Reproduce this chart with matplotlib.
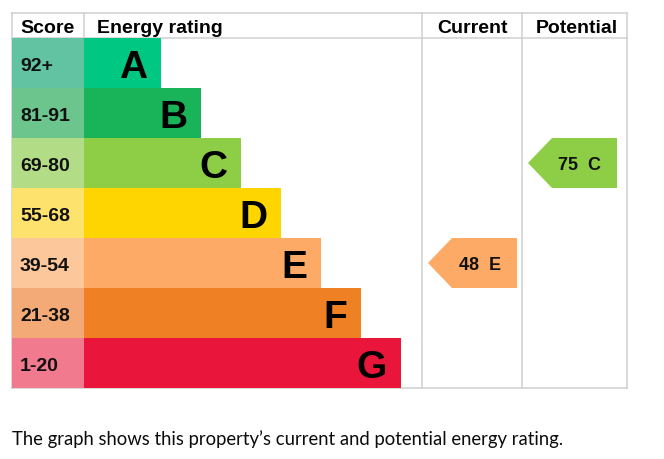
import matplotlib
matplotlib.use("Agg")
import matplotlib.pyplot as plt
from matplotlib.patches import Polygon

# EPC data
bands = ["A", "B", "C", "D", "E", "F", "G"]
score_ranges = ["92+", "81-91", "69-80", "55-68", "39-54", "21-38", "1-20"]
band_lower = [92, 81, 69, 55, 39, 21, 1]
bar_colors = ["#00c781", "#19b459", "#8dce46", "#ffd500", "#fcaa65", "#ef8023", "#e9153b"]
score_colors = ["#62c3a2", "#6cc58c", "#b2dc86", "#fee26e", "#fdc79c", "#f4aa76", "#f17a8f"]
current_score = 48
potential_score = 75
footer = "The graph shows this property\u2019s current and potential energy rating."

W, H = 664, 460
fig = plt.figure(figsize=(W / 100, H / 100), dpi=100)
ax = fig.add_axes([0, 0, 1, 1])
ax.set_xlim(0, W)
ax.set_ylim(H, 0)
ax.axis("off")

# layout (pixels)
left, score_w, bar_x = 12, 72, 84
top, head_h, row_h = 14, 25, 50
cur_x, pot_x, right = 422, 522, 627
bar_base, bar_step = 77, 40
rows_top = top + head_h
bottom = rows_top + row_h * len(bands)
grid = "#d0d0d0"
font = "Liberation Sans"


def px(pt):
    return pt * 100 / 72


def baseline(center, size):
    # put cap-height centre on the row centre
    return center + 0.716 * px(size) / 2


# grid lines
for y in (top, rows_top, bottom):
    ax.plot([left, right], [y, y], color=grid, lw=1.1, zorder=1)
for x in (left, bar_x, cur_x, pot_x, right):
    ax.plot([x, x], [top, bottom], color=grid, lw=1.1, zorder=1)

# header
hy = baseline(top + head_h / 2, 14)
ax.text(20, hy, "Score", fontsize=14, fontweight="bold", family=font, va="baseline")
ax.text(97, hy, "Energy rating", fontsize=14, fontweight="bold", family=font, va="baseline")
ax.text((cur_x + pot_x) / 2, hy, "Current", fontsize=14, fontweight="bold", family=font,
        va="baseline", ha="center")
ax.text((pot_x + right) / 2 + 2, hy, "Potential", fontsize=14, fontweight="bold", family=font,
        va="baseline", ha="center")

centers = [rows_top + row_h * (i + 0.5) for i in range(len(bands))]
widths = [bar_base + bar_step * i for i in range(len(bands))]

ax.barh(centers, [score_w] * len(bands), left=left, height=row_h, color=score_colors,
        zorder=2)
ax.barh(centers, widths, left=bar_x, height=row_h, color=bar_colors, zorder=2)

for i, b in enumerate(bands):
    ax.text(20, baseline(centers[i], 14), score_ranges[i], fontsize=14, fontweight="bold",
            family=font, va="baseline", color="#111111", zorder=3)
    ax.text(bar_x + widths[i] - 14, baseline(centers[i], 28), b, fontsize=28,
            fontweight="bold", family=font, va="baseline", ha="right", color="#000000",
            zorder=3)


def band_of(score):
    for i, lo in enumerate(band_lower):
        if score >= lo:
            return i
    return len(bands) - 1


def arrow(col_left, score):
    i = band_of(score)
    c = centers[i]
    tip = col_left + 6
    w, sh = 89, 24
    y0, y1 = c - row_h / 2, c + row_h / 2
    poly = Polygon([(tip, c), (tip + sh, y0), (tip + w, y0), (tip + w, y1), (tip + sh, y1)],
                   closed=True, facecolor=bar_colors[i], edgecolor="none", zorder=3)
    ax.add_patch(poly)
    ax.text(tip + w - 37, baseline(c, 13), f"{score}  {bands[i]}", fontsize=13,
            fontweight="bold", family=font, va="baseline", ha="center", color="#111111",
            zorder=4)


arrow(cur_x, current_score)
arrow(pot_x, potential_score)

# footer, sized to the reference width
ft = ax.text(12, 445.5, footer, fontsize=13, family="Lato", va="baseline", color="#0b0c0c")
fig.canvas.draw()
wpx = ft.get_window_extent().width
ft.set_fontsize(13 * 551 / wpx)

fig.savefig("out.png", dpi=100)
